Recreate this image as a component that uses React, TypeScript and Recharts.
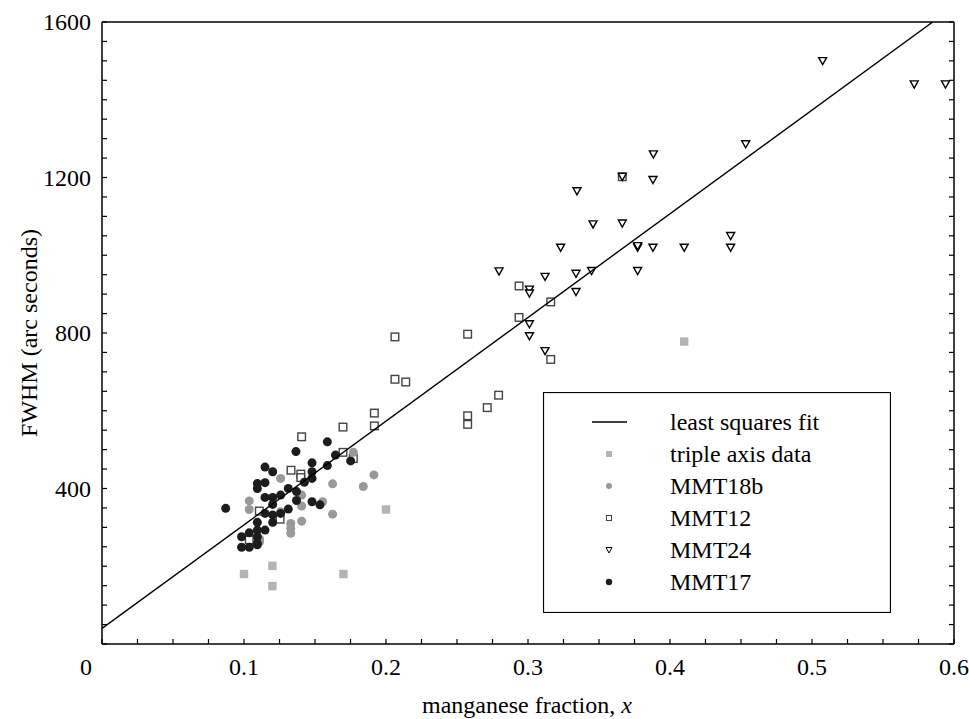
import React from "react";
import {
  ScatterChart,
  Scatter,
  XAxis,
  YAxis,
  Legend,
} from "recharts";

const FONT = '"Liberation Serif", "Times New Roman", serif';

// axis ticks
const xTicks = [
  0, 0.025, 0.05, 0.075, 0.1, 0.125, 0.15, 0.175, 0.2, 0.225, 0.25, 0.275, 0.3,
  0.325, 0.35, 0.375, 0.4, 0.425, 0.45, 0.475, 0.5, 0.525, 0.55, 0.575, 0.6,
];
const xMajor = [0, 0.1, 0.2, 0.3, 0.4, 0.5, 0.6];
const xLabels = ["0", "0.1", "0.2", "0.3", "0.4", "0.5", "0.6"];
const yTicks = [
  0, 50, 100, 150, 200, 250, 300, 350, 400, 450, 500, 550, 600, 650, 700, 750,
  800, 850, 900, 950, 1000, 1050, 1100, 1150, 1200, 1250, 1300, 1350, 1400,
  1450, 1500, 1550, 1600,
];
const yMajor = [400, 800, 1200, 1600];
const yLabels = ["400", "800", "1200", "1600"];

// least squares fit (end points)
const fitLine = [
  [0, 40],
  [0.585, 1600],
];

const tripleAxis = [
  [0.1, 180], [0.12, 201], [0.12, 149], [0.17, 180], [0.2, 346], [0.41, 778],
];

const mmt18b = [
  [0.177, 493], [0.1915, 435], [0.184, 405], [0.1624, 412], [0.1554, 366],
  [0.1624, 334], [0.1406, 383], [0.1406, 355], [0.1406, 316], [0.1258, 426],
  [0.1037, 368], [0.1037, 346], [0.1329, 310], [0.1329, 298], [0.1329, 285],
  [0.1258, 340], [0.111, 263], [0.111, 270],
];

const mmt12 = [
  [0.2063, 790], [0.2575, 797], [0.2063, 681], [0.2139, 674], [0.2713, 608],
  [0.2575, 587], [0.2575, 565], [0.1918, 594], [0.1918, 561], [0.1697, 558],
  [0.1406, 533], [0.1697, 493], [0.177, 477], [0.1331, 447], [0.14, 437],
  [0.14, 428], [0.1108, 342], [0.1254, 321], [0.1037, 268], [0.2937, 921],
  [0.316, 880], [0.2937, 840], [0.316, 732], [0.2793, 640], [0.3664, 1202],
];

const mmt24 = [
  [0.5075, 1500], [0.572, 1440], [0.594, 1440], [0.4533, 1286], [0.3883, 1260],
  [0.3664, 1202], [0.388, 1194], [0.3345, 1165], [0.3458, 1080], [0.3664, 1082],
  [0.3772, 1020], [0.3772, 1024], [0.388, 1020], [0.41, 1020], [0.4427, 1050],
  [0.4427, 1020], [0.3772, 960], [0.323, 1020], [0.2796, 959], [0.301, 912],
  [0.301, 902], [0.312, 945], [0.3338, 953], [0.3448, 960], [0.3338, 906],
  [0.301, 823], [0.301, 792], [0.312, 754],
];

const mmt17 = [
  [0.0871, 349], [0.1366, 495], [0.1587, 520], [0.1644, 486], [0.1751, 471],
  [0.1587, 459], [0.1479, 466], [0.1479, 443], [0.1479, 426], [0.1425, 416],
  [0.1148, 455], [0.1202, 443], [0.1094, 413], [0.1148, 415], [0.1094, 400],
  [0.1312, 400], [0.137, 392], [0.1148, 377], [0.1202, 377], [0.1258, 383],
  [0.137, 369], [0.1202, 359], [0.1312, 347], [0.1479, 366], [0.1535, 358],
  [0.1148, 336], [0.1202, 332], [0.1258, 336], [0.1202, 313], [0.1094, 313],
  [0.1148, 293], [0.1094, 293], [0.1037, 286], [0.0983, 276], [0.1094, 276],
  [0.1094, 259], [0.0983, 249], [0.1037, 249], [0.1094, 255],
];

const toPts = (arr: number[][]) => arr.map(([x, y]) => ({ x, y }));

const near = (a: number, b: number) => Math.abs(a - b) < 1e-6;

const textStyle = { fontFamily: FONT };

// marker shapes
const GreySquare = ({ cx, cy }: any) => (
  <rect x={cx - 4.2} y={cy - 4.2} width={8.4} height={8.4} fill="#b4b4b4" />
);
const GreyDot = ({ cx, cy }: any) => <circle cx={cx} cy={cy} r={4.5} fill="#999999" />;
const OpenSquare = ({ cx, cy }: any) => (
  <rect x={cx - 3.8} y={cy - 3.8} width={7.6} height={7.6} fill="#fff" stroke="#444" strokeWidth={1.4} />
);
const OpenTriangle = ({ cx, cy }: any) => (
  <path
    d={`M${cx - 4},${cy - 3.3} L${cx + 4},${cy - 3.3} L${cx},${cy + 3.8} Z`}
    fill="#fff"
    stroke="#000"
    strokeWidth={1.4}
  />
);
const BlackDot = ({ cx, cy }: any) => <circle cx={cx} cy={cy} r={4.5} fill="#1c1c1c" />;
const NoShape = () => <g />;

const legendItems = [
  { name: "least squares fit", kind: "line" },
  { name: "triple axis data", kind: "greySquare" },
  { name: "MMT18b", kind: "greyDot" },
  { name: "MMT12", kind: "openSquare" },
  { name: "MMT24", kind: "triangle" },
  { name: "MMT17", kind: "blackDot" },
];

function LegendBox() {
  return (
    <svg width={348} height={221} style={{ display: "block" }}>
      <rect x={0.5} y={0.5} width={347} height={220} fill="#fff" stroke="#000" strokeWidth={1.2} />
      {legendItems.map((it, i) => {
        const cy = 30 + i * 32;
        const cx = 66;
        let sym = null;
        if (it.kind === "line") sym = <line x1={49} x2={84} y1={cy} y2={cy} stroke="#000" strokeWidth={1.3} />;
        if (it.kind === "greySquare") sym = <rect x={cx - 3} y={cy - 3} width={6} height={6} fill="#b4b4b4" />;
        if (it.kind === "greyDot") sym = <circle cx={cx} cy={cy} r={3} fill="#999" />;
        if (it.kind === "openSquare") sym = <rect x={cx - 2.5} y={cy - 2.5} width={5} height={5} fill="#fff" stroke="#444" strokeWidth={1} />;
        if (it.kind === "triangle") sym = <path d={`M${cx - 3},${cy - 2.5} L${cx + 3},${cy - 2.5} L${cx},${cy + 3} Z`} fill="#fff" stroke="#000" strokeWidth={1} />;
        if (it.kind === "blackDot") sym = <circle cx={cx} cy={cy} r={3.2} fill="#1c1c1c" />;
        return (
          <g key={it.name}>
            {sym}
            <text x={127} y={cy + 8} style={textStyle} fontSize={24} fill="#000">
              {it.name}
            </text>
          </g>
        );
      })}
    </svg>
  );
}

const BottomTick = ({ x, y, payload }: any) => {
  const v = payload.value;
  const idx = xMajor.findIndex((m) => near(m, v));
  return (
    <g>
      <line x1={x} x2={x} y1={y} y2={y - 5} stroke="#000" strokeWidth={1.2} />
      {idx >= 0 && (
        <text x={v === 0 ? x - 16 : x} y={y + 31} textAnchor="middle" style={textStyle} fontSize={24} fill="#000">
          {xLabels[idx]}
        </text>
      )}
    </g>
  );
};

const TopTick = ({ x, y }: any) => (
  <line x1={x} x2={x} y1={y} y2={y + 5} stroke="#000" strokeWidth={1.2} />
);

const LeftTick = ({ x, y, payload }: any) => {
  const idx = yMajor.findIndex((m) => near(m, payload.value));
  return (
    <g>
      <line x1={x} x2={x + 5} y1={y} y2={y} stroke="#000" strokeWidth={1.2} />
      {idx >= 0 && (
        <text x={x - 11} y={y + 8} textAnchor="end" style={textStyle} fontSize={24} fill="#000">
          {yLabels[idx]}
        </text>
      )}
    </g>
  );
};

const RightTick = ({ x, y }: any) => (
  <line x1={x} x2={x - 5} y1={y} y2={y} stroke="#000" strokeWidth={1.2} />
);

export default function App() {
  const axisLine = { stroke: "#000", strokeWidth: 1.5 };
  return (
    <div
      style={{
        position: "absolute",
        left: 0,
        top: 0,
        width: 969,
        height: 719,
        background: "#fff",
        fontFamily: FONT,
      }}
    >
      <ScatterChart
        width={969}
        height={719}
        margin={{ top: 12, right: 5, bottom: 45, left: 42 }}
      >
        <XAxis
          type="number"
          dataKey="x"
          domain={[0, 0.6]}
          ticks={xTicks}
          interval={0}
          height={30}
          tickSize={0}
          tickMargin={0}
          tickLine={false}
          axisLine={axisLine}
          tick={<BottomTick />}
          allowDataOverflow
        />
        <XAxis
          xAxisId="top"
          orientation="top"
          type="number"
          domain={[0, 0.6]}
          ticks={xTicks}
          interval={0}
          height={10}
          tickSize={0}
          tickMargin={0}
          tickLine={false}
          axisLine={axisLine}
          tick={<TopTick />}
          allowDataOverflow
        />
        <YAxis
          type="number"
          dataKey="y"
          domain={[0, 1600]}
          ticks={yTicks}
          interval={0}
          width={60}
          tickSize={0}
          tickMargin={0}
          tickLine={false}
          axisLine={axisLine}
          tick={<LeftTick />}
          allowDataOverflow
        />
        <YAxis
          yAxisId="right"
          orientation="right"
          type="number"
          domain={[0, 1600]}
          ticks={yTicks}
          interval={0}
          width={10}
          tickSize={0}
          tickMargin={0}
          tickLine={false}
          axisLine={axisLine}
          tick={<RightTick />}
          allowDataOverflow
        />
        <Scatter name="MMT12" data={toPts(mmt12)} shape={<OpenSquare />} isAnimationActive={false} />
        <Scatter name="MMT24" data={toPts(mmt24)} shape={<OpenTriangle />} isAnimationActive={false} />
        <Scatter name="triple axis data" data={toPts(tripleAxis)} shape={<GreySquare />} isAnimationActive={false} />
        <Scatter name="MMT18b" data={toPts(mmt18b)} shape={<GreyDot />} isAnimationActive={false} />
        <Scatter name="MMT17" data={toPts(mmt17)} shape={<BlackDot />} isAnimationActive={false} />
        <Scatter
          name="least squares fit"
          data={toPts(fitLine)}
          line={{ stroke: "#000", strokeWidth: 1.4 }}
          shape={<NoShape />}
          isAnimationActive={false}
        />
        <Legend
          layout="horizontal"
          verticalAlign="middle"
          align="center"
          content={() => <LegendBox />}
          wrapperStyle={{ position: "absolute", left: 543, top: 392, width: 348, height: 221 }}
        />
      </ScatterChart>
      <svg
        width={969}
        height={719}
        style={{ position: "absolute", left: 0, top: 0, pointerEvents: "none" }}
      >
        <text x={527} y={713} textAnchor="middle" style={textStyle} fontSize={24} fill="#000">
          manganese fraction, <tspan fontStyle="italic">x</tspan>
        </text>
        <text
          transform="rotate(-90)"
          x={-333}
          y={37}
          textAnchor="middle"
          style={textStyle}
          fontSize={24}
          fill="#000"
        >
          FWHM (arc seconds)
        </text>
      </svg>
    </div>
  );
}
